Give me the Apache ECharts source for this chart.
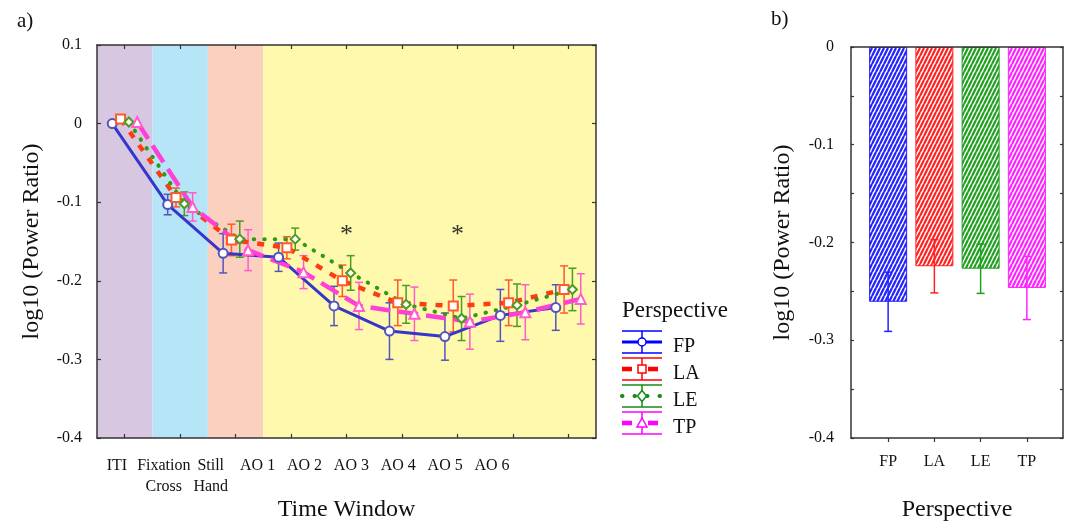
<!DOCTYPE html>
<html>
<head>
<meta charset="utf-8">
<title>log10 power ratio</title>
<script src="https://cdn.jsdelivr.net/npm/echarts@6/dist/echarts.min.js"></script>
<style>
html, body { margin: 0; padding: 0; background: #fff; }
#main { width: 1072px; height: 527px; }
</style>
</head>
<body>
<div id="main"></div>
<script>
// ---- data (panel a) ----
var timeWindows = ['ITI', 'Fixation\nCross', 'Still\nHand', 'AO 1', 'AO 2', 'AO 3', 'AO 4', 'AO 5', 'AO 6'];
var perspectives = ['FP', 'LA', 'LE', 'TP'];

var fpMean = [0, -0.103, -0.165, -0.170, -0.232, -0.264, -0.271, -0.244, -0.234];
var fpErr  = [0, 0.013, 0.025, 0.018, 0.025, 0.036, 0.030, 0.033, 0.029];
var laMean = [0.006, -0.094, -0.148, -0.158, -0.200, -0.228, -0.232, -0.228, -0.211];
var laErr  = [0, 0.012, 0.020, 0.014, 0.020, 0.029, 0.033, 0.029, 0.030];
var leMean = [0.002, -0.102, -0.147, -0.147, -0.190, -0.230, -0.248, -0.231, -0.211];
var leErr  = [0, 0.015, 0.023, 0.014, 0.022, 0.024, 0.028, 0.027, 0.027];
var tpMean = [0.002, -0.106, -0.161, -0.189, -0.232, -0.242, -0.252, -0.240, -0.223];
var tpErr  = [0, 0.018, 0.026, 0.021, 0.030, 0.034, 0.035, 0.035, 0.032];

// phases: first and last time window of each shaded block
var phases = [['ITI', 'ITI'], ['Fixation\nCross', 'Fixation\nCross'], ['Still\nHand', 'Still\nHand'], ['AO 1', 'AO 6']];
var sigWindows = ['AO 2', 'AO 4'];
var sigLevel = -0.142;

// ---- data (panel b) ----
var barMean = [-0.258, -0.222, -0.2245, -0.244];
var barErr  = [0.030, 0.027, 0.025, 0.032];

var yTicksA = { min: -0.4, max: 0.1, interval: 0.1 };
var yTicksB = { min: -0.4, max: 0, interval: 0.05 };

// ---- styles ----
var FONT = 'Liberation Serif';
var AXIS = '#333';
var bandColors = ['#d8c7e0', '#b5e5f7', '#fbd0be', '#fff9ae'];
var lineColors = ['#3636c8', '#ff3c10', '#2f9a12', '#ff3fd6'];
var errColors  = ['#5454bc', '#ff5a28', '#4b9b25', '#ff5ccd'];
var legColors  = ['#0000ff', '#ff0000', '#178a17', '#ff00ff'];
var barColors  = ['#2222ff', '#ff2222', '#1fa01f', '#ff22ff'];
var symbols = ['emptyCircle', 'emptyRect', 'emptyDiamond', 'emptyTriangle'];
var dashes = ['solid', [7, 9], [0.5, 10], [20, 8]];
var widths = [3, 4.5, 4, 4.5];
var caps = ['butt', 'butt', 'round', 'butt'];
var offsets = [-0.225, -0.075, 0.075, 0.225];

var means = [fpMean, laMean, leMean, tpMean];
var errs = [fpErr, laErr, leErr, tpErr];

function tickLabel(v) {
  var r = Math.round(v * 100);
  if (r % 10 !== 0) return '';
  return String(r / 100);
}

function makeHatch(color) {
  var c = document.createElement('canvas');
  c.width = 4; c.height = 8;
  var g = c.getContext('2d');
  g.fillStyle = '#fff';
  g.fillRect(0, 0, 4, 8);
  g.strokeStyle = color;
  g.lineWidth = 2.2;
  g.beginPath();
  [-4, 0, 4].forEach(function (dx) { g.moveTo(dx, 8); g.lineTo(dx + 4, 0); });
  g.stroke();
  return c;
}

function errRender(colors, capHalf) {
  return function (params, api) {
    var x = api.value(0);
    var lo = api.coord([x, api.value(1)]);
    var hi = api.coord([x, api.value(2)]);
    var col = typeof colors === 'string' ? colors : colors[api.value(3)];
    var st = { stroke: col, lineWidth: 1.5 };
    return {
      type: 'group',
      children: [
        { type: 'line', shape: { x1: lo[0], y1: lo[1], x2: hi[0], y2: hi[1] }, style: st },
        { type: 'line', shape: { x1: hi[0] - capHalf, y1: hi[1], x2: hi[0] + capHalf, y2: hi[1] }, style: st },
        { type: 'line', shape: { x1: lo[0] - capHalf, y1: lo[1], x2: lo[0] + capHalf, y2: lo[1] }, style: st }
      ]
    };
  };
}

var chart = echarts.init(document.getElementById('main'));

var series = [];

// shaded phase blocks
series.push({
  type: 'custom',
  xAxisIndex: 2, yAxisIndex: 0,
  silent: true, z: 0,
  data: phases.map(function (p, k) {
    return [timeWindows.indexOf(p[0]) - 0.5, timeWindows.indexOf(p[1]) + 0.5, k];
  }),
  renderItem: function (params, api) {
    var a = api.coord([api.value(0), yTicksA.max]);
    var b = api.coord([api.value(1), yTicksA.min]);
    return {
      type: 'rect',
      shape: { x: a[0], y: a[1], width: b[0] - a[0], height: b[1] - a[1] },
      style: { fill: bandColors[api.value(2)] }
    };
  }
});

perspectives.forEach(function (name, k) {
  var errData = [];
  means[k].forEach(function (m, i) {
    if (errs[k][i] > 0) errData.push([i + offsets[k], m - errs[k][i], m + errs[k][i]]);
  });
  series.push({
    name: name + ' err',
    type: 'custom',
    xAxisIndex: 2, yAxisIndex: 0,
    silent: true, z: 2,
    data: errData,
    renderItem: errRender(errColors[k], 4)
  });
  series.push({
    name: name,
    type: 'line',
    xAxisIndex: 2, yAxisIndex: 0,
    z: 3,
    data: means[k].map(function (m, i) { return [i + offsets[k], m]; }),
    symbol: symbols[k],
    symbolSize: k === 3 ? 10 : 9,
    itemStyle: { color: errColors[k], borderWidth: 1.5 },
    lineStyle: { color: lineColors[k], width: widths[k], type: dashes[k], cap: caps[k] }
  });
});

// significance stars
series.push({
  type: 'custom',
  xAxisIndex: 2, yAxisIndex: 0,
  silent: true, z: 4,
  data: sigWindows.map(function (w) { return [timeWindows.indexOf(w), sigLevel]; }),
  renderItem: function (params, api) {
    var p = api.coord([api.value(0), api.value(1)]);
    return {
      type: 'text', x: p[0], y: p[1],
      style: { text: '*', fontFamily: FONT, fontSize: 26, fill: '#333', align: 'center', verticalAlign: 'middle' }
    };
  }
});

// panel b bars
series.push({
  type: 'bar',
  xAxisIndex: 6, yAxisIndex: 5,
  barWidth: 38,
  z: 2,
  data: barMean.map(function (v, i) {
    return {
      value: v,
      itemStyle: { color: { image: makeHatch(barColors[i]), repeat: 'repeat' }, borderColor: barColors[i], borderWidth: 1 }
    };
  })
});
series.push({
  type: 'custom',
  xAxisIndex: 6, yAxisIndex: 5,
  silent: true, z: 3,
  data: barMean.map(function (v, i) { return [i, v - barErr[i], v + barErr[i], i]; }),
  renderItem: errRender(barColors, 4)
});

// legend icons (panel a)
var legendIcons = [];
var legX = 622, legW = 40, legY0 = 342, legStep = 27;
perspectives.forEach(function (name, k) {
  var cy = legY0 + k * legStep;
  var cx = legX + legW / 2;
  var col = legColors[k];
  var thin = { stroke: col, lineWidth: 1.5 };
  var marker;
  if (k === 0) marker = { type: 'circle', shape: { cx: cx, cy: cy, r: 4 } };
  else if (k === 1) marker = { type: 'rect', shape: { x: cx - 4, y: cy - 4, width: 8, height: 8 } };
  else if (k === 2) marker = { type: 'polygon', shape: { points: [[cx, cy - 5.5], [cx + 4.5, cy], [cx, cy + 5.5], [cx - 4.5, cy]] } };
  else marker = { type: 'polygon', shape: { points: [[cx, cy - 5], [cx + 5, cy + 4], [cx - 5, cy + 4]] } };
  marker.style = { fill: '#fff', stroke: col, lineWidth: 1.5 };
  legendIcons.push(
    { type: 'line', shape: { x1: legX, y1: cy - 11, x2: legX + legW, y2: cy - 11 }, style: thin },
    { type: 'line', shape: { x1: legX, y1: cy + 11, x2: legX + legW, y2: cy + 11 }, style: thin },
    { type: 'line', shape: { x1: cx, y1: cy - 11, x2: cx, y2: cy + 11 }, style: thin },
    { type: 'line', shape: { x1: legX, y1: cy, x2: legX + legW, y2: cy },
      style: { stroke: col, lineWidth: widths[k], lineDash: dashes[k] === 'solid' ? null : (k === 2 ? [0.5, 12] : [10, 16]), lineCap: caps[k] } },
    marker
  );
});

var axisLine = { show: true, onZero: false, lineStyle: { color: AXIS, width: 1.5 } };
var noLine = { show: false, onZero: false };
var tickIn = { show: true, inside: true, length: 4, lineStyle: { color: AXIS, width: 1.2 } };
var labelFont = { fontFamily: FONT, fontSize: 16, color: '#111' };
var nameFont = { fontFamily: FONT, fontSize: 24, color: '#111' };

var option = {
  backgroundColor: '#fff',
  animation: false,
  title: [
    { text: 'a)', left: 12, top: 6, textStyle: { fontFamily: FONT, fontSize: 21, fontWeight: 'normal', color: '#111' } },
    { text: 'b)', left: 766, top: 4, textStyle: { fontFamily: FONT, fontSize: 21, fontWeight: 'normal', color: '#111' } },
    { text: 'Perspective', left: 617, top: 294, textStyle: { fontFamily: FONT, fontSize: 23, fontWeight: 'normal', color: '#111' } }
  ],
  legend: {
    data: perspectives,
    orient: 'vertical',
    left: legX, top: legY0 - 10,
    itemWidth: 41, itemHeight: 20, itemGap: legStep - 20,
    icon: 'rect',
    itemStyle: { opacity: 0 },
    selectedMode: false,
    textStyle: { fontFamily: FONT, fontSize: 20, color: '#111' }
  },
  graphic: legendIcons,
  grid: [
    { left: 97, top: 45, width: 499, height: 396 },
    { left: 93.5, top: 45, width: 422, height: 396 },
    { left: 851, top: 47, width: 212, height: 395 },
    { left: 865, top: 47, width: 185, height: 395 }
  ],
  xAxis: [
    { gridIndex: 0, type: 'category', position: 'bottom', data: timeWindows, boundaryGap: true,
      axisLine: axisLine, axisTick: Object.assign({ alignWithLabel: true }, tickIn), axisLabel: { show: false },
      name: 'Time Window', nameLocation: 'middle', nameGap: 60, nameTextStyle: nameFont, z: 5 },
    { gridIndex: 0, type: 'category', position: 'top', data: timeWindows, boundaryGap: true,
      axisLine: axisLine, axisTick: Object.assign({ alignWithLabel: true }, tickIn), axisLabel: { show: false }, z: 5 },
    { gridIndex: 0, type: 'value', show: false, min: -0.5, max: 8.5, axisLine: noLine },
    { gridIndex: 1, type: 'category', position: 'bottom', data: timeWindows, boundaryGap: true,
      axisLine: noLine, axisTick: { show: false },
      axisLabel: Object.assign({ interval: 0, margin: 14, lineHeight: 21 }, labelFont) },
    { gridIndex: 2, type: 'value', position: 'bottom', min: 0, max: 1,
      axisLine: axisLine, axisTick: { show: false }, axisLabel: { show: false }, splitLine: { show: false },
      name: 'Perspective', nameLocation: 'middle', nameGap: 60, nameTextStyle: nameFont, z: 5 },
    { gridIndex: 2, type: 'value', position: 'top', min: 0, max: 1,
      axisLine: axisLine, axisTick: { show: false }, axisLabel: { show: false }, splitLine: { show: false }, z: 5 },
    { gridIndex: 3, type: 'category', position: 'bottom', data: perspectives, boundaryGap: true,
      axisLine: noLine, axisTick: Object.assign({ alignWithLabel: true }, tickIn),
      axisLabel: Object.assign({ margin: 12 }, labelFont) }
  ],
  yAxis: [
    { gridIndex: 0, type: 'value', position: 'left', min: yTicksA.min, max: yTicksA.max, interval: yTicksA.interval,
      axisLine: axisLine, axisTick: tickIn, splitLine: { show: false },
      axisLabel: Object.assign({ margin: 15, formatter: tickLabel }, labelFont),
      name: 'log10 (Power Ratio)', nameLocation: 'middle', nameGap: 53, nameTextStyle: nameFont, z: 5 },
    { gridIndex: 0, type: 'value', position: 'right', min: yTicksA.min, max: yTicksA.max, interval: yTicksA.interval,
      axisLine: axisLine, axisTick: tickIn, splitLine: { show: false }, axisLabel: { show: false }, z: 5 },
    { gridIndex: 1, type: 'value', show: false, min: yTicksA.min, max: yTicksA.max, axisLine: noLine },
    { gridIndex: 2, type: 'value', position: 'left', min: yTicksB.min, max: yTicksB.max, interval: yTicksB.interval,
      axisLine: axisLine, axisTick: Object.assign({}, tickIn, { length: 3 }), splitLine: { show: false },
      axisLabel: Object.assign({ margin: 17, formatter: tickLabel }, labelFont),
      name: 'log10 (Power Ratio)', nameLocation: 'middle', nameGap: 56, nameTextStyle: nameFont, z: 5 },
    { gridIndex: 2, type: 'value', position: 'right', min: yTicksB.min, max: yTicksB.max, interval: yTicksB.interval,
      axisLine: axisLine, axisTick: Object.assign({}, tickIn, { length: 3 }), splitLine: { show: false },
      axisLabel: { show: false }, z: 5 },
    { gridIndex: 3, type: 'value', show: false, min: yTicksB.min, max: yTicksB.max, axisLine: noLine }
  ],
  series: series
};

chart.setOption(option);
</script>
</body>
</html>
